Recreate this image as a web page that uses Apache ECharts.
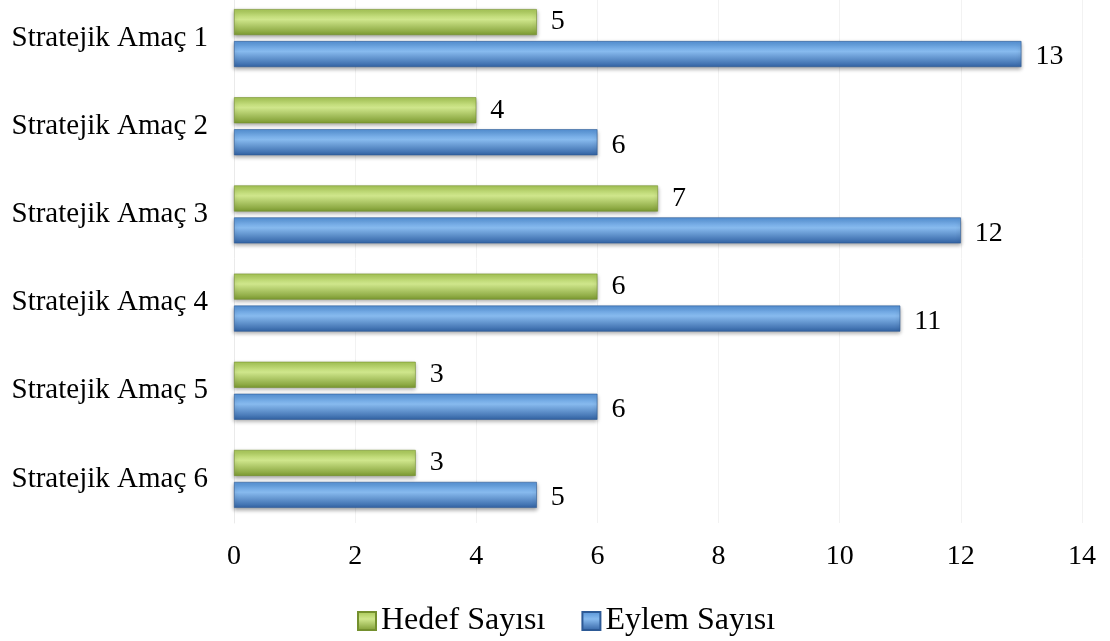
<!DOCTYPE html>
<html><head><meta charset="utf-8">
<script src="https://cdn.jsdelivr.net/npm/echarts@6/dist/echarts.min.js"></script>
<style>html,body{margin:0;padding:0;background:#fff;overflow:hidden}#c{width:1110px;height:647px;margin-top:-6px}</style>
</head><body><div id="c"></div>
<script>
var categories = ['Stratejik Amaç 1','Stratejik Amaç 2','Stratejik Amaç 3','Stratejik Amaç 4','Stratejik Amaç 5','Stratejik Amaç 6'];
var hedef = [5, 4, 7, 6, 3, 3];
var eylem = [13, 6, 12, 11, 6, 5];
var xTicks = [0, 2, 4, 6, 8, 10, 12, 14];

var F = '"Liberation Serif","Times New Roman",serif';
function grad(top, mid, bot) {
  return new echarts.graphic.LinearGradient(0, 0, 0, 1, [
    {offset: 0, color: top}, {offset: 0.4, color: mid}, {offset: 1, color: bot}
  ]);
}
var green = grad('#a6c655', '#cfe68c', '#7c9a31');
var blue = grad('#5592d6', '#87baee', '#3262a3');
var chart = echarts.init(document.getElementById('c'));
chart.setOption({
  animation: false,
  grid: {left: 234, right: 28, top: 0, bottom: 118, containLabel: false},
  legend: {
    data: ['Hedef Sayısı', 'Eylem Sayısı'], top: 606, left: 352,
    icon: 'rect', itemWidth: 18, itemHeight: 18, itemGap: 36,
    textStyle: {fontFamily: F, fontSize: 32, color: '#000'}
  },
  xAxis: {
    type: 'value', min: 0, max: 14, interval: 2,
    axisLine: {show: false}, axisTick: {show: false},
    splitLine: {show: true, lineStyle: {color: '#f2f2f2', width: 1}},
    axisLabel: {fontFamily: F, fontSize: 28, color: '#000', margin: 20,
      formatter: function (v) { return xTicks.indexOf(v) >= 0 ? String(v) : ''; }}
  },
  yAxis: {
    type: 'category', data: categories, inverse: true,
    axisLine: {show: true, lineStyle: {color: '#eaeaea'}}, axisTick: {show: false},
    axisLabel: {fontFamily: F, fontSize: 29, color: '#000', margin: 26}
  },
  series: [
    {name: 'Hedef Sayısı', type: 'bar', data: hedef, barWidth: 26, barGap: '23%',
      itemStyle: {color: green, borderColor: '#74902e', borderWidth: 0.6,
        shadowColor: 'rgba(0,0,0,0.35)', shadowBlur: 4, shadowOffsetY: 2},
      label: {show: true, position: 'right', distance: 14, fontFamily: F, fontSize: 28, color: '#000', offset: [0, 0]}},
    {name: 'Eylem Sayısı', type: 'bar', data: eylem, barWidth: 26, barGap: '23%',
      itemStyle: {color: blue, borderColor: '#2d5a96', borderWidth: 0.6,
        shadowColor: 'rgba(0,0,0,0.35)', shadowBlur: 4, shadowOffsetY: 2},
      label: {show: true, position: 'right', distance: 14, fontFamily: F, fontSize: 28, color: '#000', offset: [0, 3]}}
  ]
});
</script></body></html>
